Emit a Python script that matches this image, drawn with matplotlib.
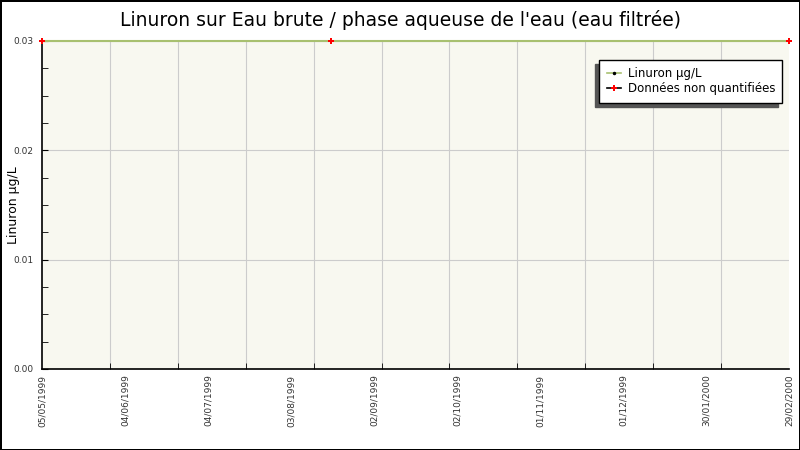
import matplotlib
matplotlib.use("Agg")
import matplotlib.pyplot as plt
import matplotlib.dates as mdates
import numpy as np
import pandas as pd

title = "Linuron sur Eau brute / phase aqueuse de l'eau (eau filtrée)"
y_label = "Linuron µg/L"

sample_dates = ["1999-05-05", "1999-08-29", "2000-02-29"]
linuron_values = [0.03, 0.03, 0.03]
non_quantified = [0.03, 0.03, 0.03]

tick_labels = ["05/05/1999", "04/06/1999", "04/07/1999", "03/08/1999", "02/09/1999",
               "02/10/1999", "01/11/1999", "01/12/1999", "30/01/2000", "29/02/2000"]
y_ticks = [0.00, 0.01, 0.02, 0.03]

dates = pd.to_datetime(sample_dates)
x = mdates.date2num(dates)
x0, x1 = x[0], x[-1]

fig = plt.figure(figsize=(8, 4.5), dpi=100)
fig.patch.set_edgecolor("black")
fig.patch.set_linewidth(2)
ax = fig.add_axes([42 / 800, 81 / 450, 747 / 800, 328 / 450])
ax.set_facecolor("#f8f8f0")

ax.plot(x, linuron_values, color="#a8c070", linewidth=1.5, zorder=3, clip_on=False)
ax.plot(x, non_quantified, linestyle="none", marker="P", markersize=5,
        color="red", markeredgewidth=0, zorder=4, clip_on=False)

# legend proxies
h1, = ax.plot([], [], color="#a8c070", linewidth=1.2, marker=".", markersize=3,
              markerfacecolor="black", markeredgecolor="black")
h2, = ax.plot([], [], color="black", linewidth=1.2, marker="P", markersize=5,
              markerfacecolor="red", markeredgewidth=0)
leg = ax.legend([h1, h2], ["Linuron µg/L", "Données non quantifiées"],
                loc="upper right", bbox_to_anchor=(0.999, 0.96), fontsize=8.5,
                frameon=True, fancybox=False,
                shadow={"color": "#555555", "alpha": 1, "ox": -3, "oy": -3},
                handlelength=1.2, borderpad=0.6, labelspacing=0.2, handletextpad=0.6)
leg.get_frame().set_edgecolor("black")
leg.get_frame().set_linewidth(1.0)

ax.set_xlim(x0, x1)
ax.set_ylim(0, 0.03)

ax.set_xticks(np.linspace(x0, x1, len(tick_labels)))
ax.set_xticklabels(tick_labels, rotation=90, fontsize=6.5, color="#333333")
ax.set_xticks(np.linspace(x0, x1, 12), minor=True)
ax.tick_params(axis="x", which="major", length=0, pad=4)
ax.tick_params(axis="x", which="minor", length=4, direction="in", color="black")
ax.grid(True, axis="x", which="minor", color="#cccccc", linewidth=0.8)

ax.set_yticks(y_ticks)
ax.set_yticklabels([f"{v:.2f}" for v in y_ticks], fontsize=6.5, color="#333333")
ax.set_yticks(np.arange(0, 0.0301, 0.0025), minor=True)
ax.tick_params(axis="y", which="both", length=4, direction="in", color="black", pad=6)
ax.grid(True, axis="y", which="major", color="#cccccc", linewidth=0.8)
ax.set_axisbelow(True)

for side in ["top", "right"]:
    ax.spines[side].set_visible(False)
ax.spines["left"].set_linewidth(1.2)
ax.spines["bottom"].set_linewidth(1.2)

fig.text(14 / 800, 1 - 205 / 450, y_label, rotation=90, ha="center", va="center",
         fontsize=9)
fig.text(0.5, 0.955, title, ha="center", va="center", fontsize=13.5)

fig.savefig("out.png", dpi=100, edgecolor=fig.get_edgecolor())
